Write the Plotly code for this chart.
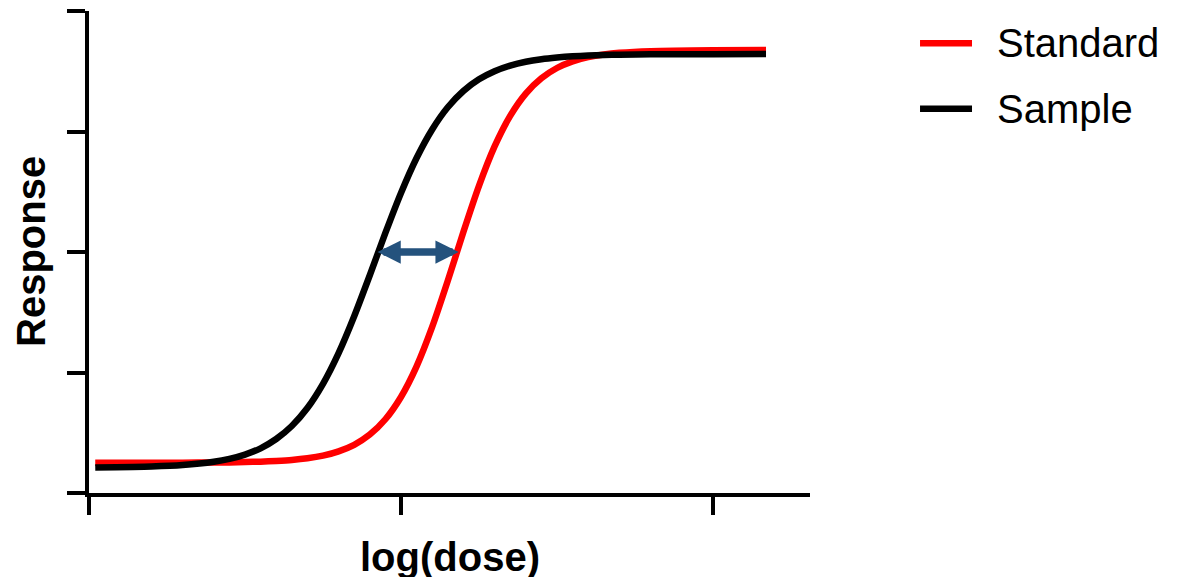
import plotly.graph_objects as go

# ---- data ----
series_names = ["Standard", "Sample"]
series_colors = ["#FF0000", "#000000"]

log_dose = [0.02, 0.2, 0.3, 0.4, 0.45, 0.5, 0.55, 0.6, 0.65, 0.7, 0.75, 0.8, 0.85,
            0.9, 0.95, 1.0, 1.05, 1.1, 1.15, 1.2, 1.25, 1.3, 1.35, 1.4, 1.45, 1.5,
            1.55, 1.6, 1.65, 1.7, 1.8, 2.0, 2.17]
standard = [0.251, 0.251, 0.252, 0.253, 0.254, 0.257, 0.260, 0.266, 0.274, 0.288,
            0.310, 0.346, 0.400, 0.485, 0.612, 0.797, 1.051, 1.378, 1.761, 2.166,
            2.549, 2.876, 3.130, 3.315, 3.442, 3.527, 3.582, 3.617, 3.639, 3.653,
            3.667, 3.675, 3.676]
sample = [0.212, 0.220, 0.232, 0.259, 0.283, 0.319, 0.371, 0.448, 0.556, 0.705,
          0.906, 1.161, 1.467, 1.807, 2.158, 2.490, 2.780, 3.017, 3.201, 3.336,
          3.433, 3.500, 3.547, 3.579, 3.600, 3.614, 3.624, 3.630, 3.635, 3.637,
          3.641, 3.642, 3.643]

x_tickvals = [0, 1, 2]
y_tickvals = [0, 1, 2, 3, 4]

# EC50 positions joined by the double arrow
ec50_response = 2.0
ec50_sample = 0.92
ec50_standard = 1.185

x_title = "log(dose)"
y_title = "Response"

FONT = "Liberation Sans, Arial, sans-serif"
FS = 40

fig = go.Figure()
for name, color, ys in [(series_names[0], series_colors[0], standard),
                        (series_names[1], series_colors[1], sample)]:
    fig.add_trace(go.Scatter(
        x=log_dose, y=ys, mode="lines", name=name,
        line=dict(color=color, width=6.5, shape="spline", smoothing=0.6),
        showlegend=False, hoverinfo="skip"))

# double-headed arrow between the two curves
fig.add_annotation(
    x=ec50_standard, y=ec50_response, ax=ec50_sample, ay=ec50_response,
    xref="x", yref="y", axref="x", ayref="y", text="",
    showarrow=True, arrowhead=2, startarrowhead=2, arrowside="end+start",
    arrowwidth=7.5, arrowsize=0.62, startarrowsize=0.62,
    arrowcolor="#24527D", standoff=0, startstandoff=0)

# axis titles
fig.add_annotation(text="<b>" + x_title + "</b>", xref="paper", yref="paper",
                   x=0.5, y=0, yanchor="middle", yshift=-64, showarrow=False,
                   font=dict(family=FONT, size=FS, color="black"))
fig.add_annotation(text="<b>" + y_title + "</b>", xref="paper", yref="paper",
                   x=0, y=0.5, xanchor="center", xshift=-58, textangle=-90,
                   showarrow=False, font=dict(family=FONT, size=FS, color="black"))

# custom legend (long line samples)
legend_y = [0.933, 0.797]
for name, color, ly in zip(series_names, series_colors, legend_y):
    fig.add_shape(type="line", xref="paper", yref="paper",
                  x0=1.1526, x1=1.2247, y0=ly, y1=ly,
                  line=dict(color=color, width=6.5))
    fig.add_annotation(text=name, xref="paper", yref="paper", x=1.257, y=ly,
                       xanchor="left", yanchor="middle", showarrow=False,
                       font=dict(family=FONT, size=FS, color="black"))

axis_common = dict(showline=True, linewidth=4, linecolor="black",
                   ticks="outside", ticklen=18, tickwidth=4, tickcolor="black",
                   showticklabels=False, showgrid=False, zeroline=False,
                   fixedrange=True)
fig.update_xaxes(range=[0, 2.311], tickvals=x_tickvals, **axis_common)
fig.update_yaxes(range=[0, 4], tickvals=y_tickvals, **axis_common)

fig.update_layout(
    width=1186, height=577,
    margin=dict(l=81, r=384, t=3, b=92),
    plot_bgcolor="white", paper_bgcolor="white",
    showlegend=False,
    font=dict(family=FONT, color="black"))

fig.write_html("out.html")
